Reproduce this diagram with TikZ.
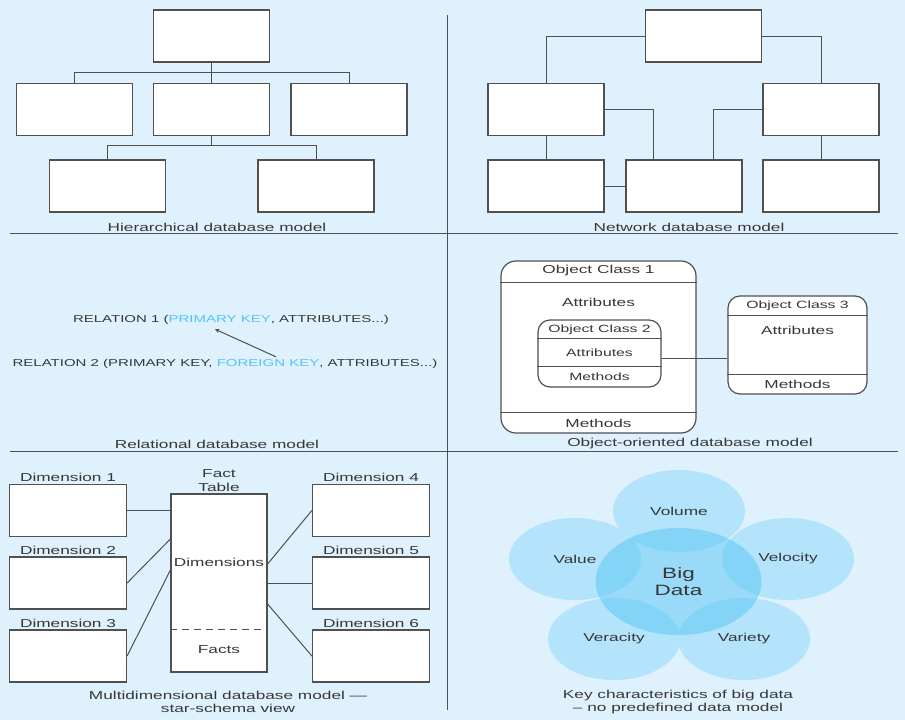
\documentclass[tikz,border=0pt]{standalone}
\usepackage{fontspec}
\setmainfont[FakeStretch=1.5]{Liberation Sans}
\usetikzlibrary{positioning,shapes.geometric}
\definecolor{bgblue}{RGB}{222,241,253}
\definecolor{linegray}{RGB}{80,80,80}
\definecolor{txtgray}{RGB}{55,55,55}
\definecolor{keyblue}{RGB}{85,195,247}
\definecolor{petalblue}{RGB}{179,228,251}
\definecolor{coreblue}{RGB}{95,200,245}
\begin{document}
\begin{tikzpicture}[x=1pt,y=-1pt,>=stealth,font=\fontsize{11.5}{13.5}\selectfont,
  every node/.append style={text=txtgray},
  link/.style={draw=linegray,line width=1pt},
  box/.style={draw=linegray,fill=white,line width=1.25pt,inner sep=0pt,minimum width=116pt,minimum height=52pt},
  dim/.style={box,minimum width=117pt},
  obj/.style={draw=linegray,fill=white,line width=1.2pt,inner sep=0pt},
  title/.style={inner sep=1pt},
  small/.style={font=\fontsize{10.5}{12}\selectfont},
  rel/.style={font=\fontsize{10}{12}\selectfont},
  petal/.style={ellipse,fill=petalblue,inner sep=0pt,minimum width=132pt,minimum height=82pt},
  core/.style={ellipse,fill=coreblue,fill opacity=0.55,text opacity=1,inner sep=0pt,minimum width=166pt,minimum height=107pt,align=center,font=\fontsize{15}{17}\selectfont}]
\path[use as bounding box,fill=bgblue] (0,0) rectangle (905,720);
% dividers
\draw[link] (447.5,15) -- (447.5,710);
\draw[link] (10,233) -- (898,233);
\draw[link] (10,451) -- (898,451);
% hierarchical
\node[box] (h0) at (211.5,36) {};
\node[box] (h1) at (74.5,109.5) {};
\node[box] (h2) at (211.5,109.5) {};
\node[box] (h3) at (349,109.5) {};
\node[box] (h4) at (107.5,186) {};
\node[box] (h5) at (316,186) {};
\draw[link] (h0.south) -- ++(0,10) coordinate (hj1) -| (h1.north);
\draw[link] (hj1) -| (h3.north);
\draw[link] (hj1) -- (h2.north);
\draw[link] (h2.south) -- ++(0,9) coordinate (hj2) -| (h4.north);
\draw[link] (hj2) -| (h5.north);
\node[title] (hcap) at (217,227) {Hierarchical database model};
% network
\node[box] (n0) at (703.5,36) {};
\node[box] (n1) at (546,109.5) {};
\node[box] (n2) at (821,109.5) {};
\node[box] (n3) at (546,186) {};
\node[box] (n4) at (684,186) {};
\node[box] (n5) at (821,186) {};
\draw[link] (n0.west) -| (n1.north);
\draw[link] (n0.east) -| (n2.north);
\draw[link] (n1.east) -| ([xshift=28pt]n4.north west);
\draw[link] (n2.west) -| ([xshift=-29pt]n4.north east);
\draw[link] (n1.south) -- (n3.north);
\draw[link] (n2.south) -- (n5.north);
\draw[link] (n3.east) -- (n4.west);
\node[title] (ncap) at (689,227) {Network database model};
% relational
\node[rel] (r1) at (231,320) {RELATION 1 (\textcolor{keyblue}{PRIMARY KEY}, ATTRIBUTES...)};
\node[rel] (r2) at (225,364) {RELATION 2 (PRIMARY KEY, \textcolor{keyblue}{FOREIGN KEY}, ATTRIBUTES...)};
\draw[link,->] ([xshift=51pt,yshift=-1pt]r2.north) -- ([xshift=-16pt,yshift=-1pt]r1.south);
\node[title] (rcap) at (217,444) {Relational database model};
% object-oriented
\node[obj,minimum width=195pt,minimum height=172pt,rounded corners=15pt] (oc1) at (598.5,347) {};
\draw[link] ([yshift=-22pt]oc1.north west) -- ([yshift=-22pt]oc1.north east);
\draw[link] ([yshift=21pt]oc1.south west) -- ([yshift=21pt]oc1.south east);
\node (oc1t) at (598.5,271) {Object Class 1};
\node (oc1a) at (598.5,302) {Attributes};
\node (oc1m) at (598.5,423) {Methods};
\node[obj,minimum width=123pt,minimum height=67pt,rounded corners=12pt] (oc2) at (599.5,353.5) {};
\draw[link] ([yshift=-19pt]oc2.north west) -- ([yshift=-19pt]oc2.north east);
\draw[link] ([yshift=21pt]oc2.south west) -- ([yshift=21pt]oc2.south east);
\node[small] (oc2t) at (599.5,330) {Object Class 2};
\node[small] (oc2a) at (599.5,353) {Attributes};
\node[small] (oc2m) at (599.5,377) {Methods};
\node[obj,minimum width=139pt,minimum height=98pt,rounded corners=12pt] (oc3) at (797.5,345) {};
\draw[link] ([yshift=-20pt]oc3.north west) -- ([yshift=-20pt]oc3.north east);
\draw[link] ([yshift=20pt]oc3.south west) -- ([yshift=20pt]oc3.south east);
\node[small] (oc3t) at (797.5,306) {Object Class 3};
\node (oc3a) at (797.5,330) {Attributes};
\node (oc3m) at (797.5,384) {Methods};
\coordinate (oc2r) at ([yshift=-4.5pt]oc2.east);
\draw[link] (oc2r) -- (oc2r -| oc3.west);
\node[title] (ocap) at (690,444) {Object-oriented database model};
% multidimensional
\node[dim] (d1) at (68,510.5) {};
\node[dim] (d2) at (68,583) {};
\node[dim] (d3) at (68,656) {};
\node[dim] (d4) at (371,510.5) {};
\node[dim] (d5) at (371,583) {};
\node[dim] (d6) at (371,656) {};
\node[title,above=1pt of d1] (d1t) {Dimension 1};
\node[title,above=1pt of d2] (d2t) {Dimension 2};
\node[title,above=1pt of d3] (d3t) {Dimension 3};
\node[title,above=1pt of d4] (d4t) {Dimension 4};
\node[title,above=1pt of d5] (d5t) {Dimension 5};
\node[title,above=1pt of d6] (d6t) {Dimension 6};
\node[dim,minimum width=96pt,minimum height=178pt] (fact) at (219,583) {};
\node[title,above=1pt of fact,align=center] (factt) {Fact\\Table};
\node (factd) at (219,562) {Dimensions};
\node (factf) at (219,650) {Facts};
\draw[link,dash pattern=on 7pt off 5pt] ([yshift=43pt]fact.south west) -- ([yshift=43pt]fact.south east);
\draw[link] (d1.east) -- (d1.east -| fact.west);
\draw[link] (d2.east) -- ([yshift=44pt]fact.west);
\draw[link] (d3.east) -- ([yshift=13pt]fact.west);
\draw[link] (d4.west) -- ([yshift=19pt]fact.east);
\draw[link] (d5.west) -- (fact.east);
\draw[link] (d6.west) -- ([yshift=-21pt]fact.east);
\node[title,align=center] (mcap) at (228,702) {Multidimensional database model ---\\star-schema view};
% big data
\node[petal] (vol) at (679,511) {Volume};
\node[petal] (val) at (575,559) {Value};
\node[petal] (vel) at (788,559) {Velocity};
\node[petal] (ver) at (614,639) {Veracity};
\node[petal] (var) at (744,639) {Variety};
\node[core] (big) at (678.5,581.5) {Big\\Data};
\node[title,align=center] (bcap) at (678,702) {Key characteristics of big data\\-- no predefined data model};
\end{tikzpicture}
\end{document}
